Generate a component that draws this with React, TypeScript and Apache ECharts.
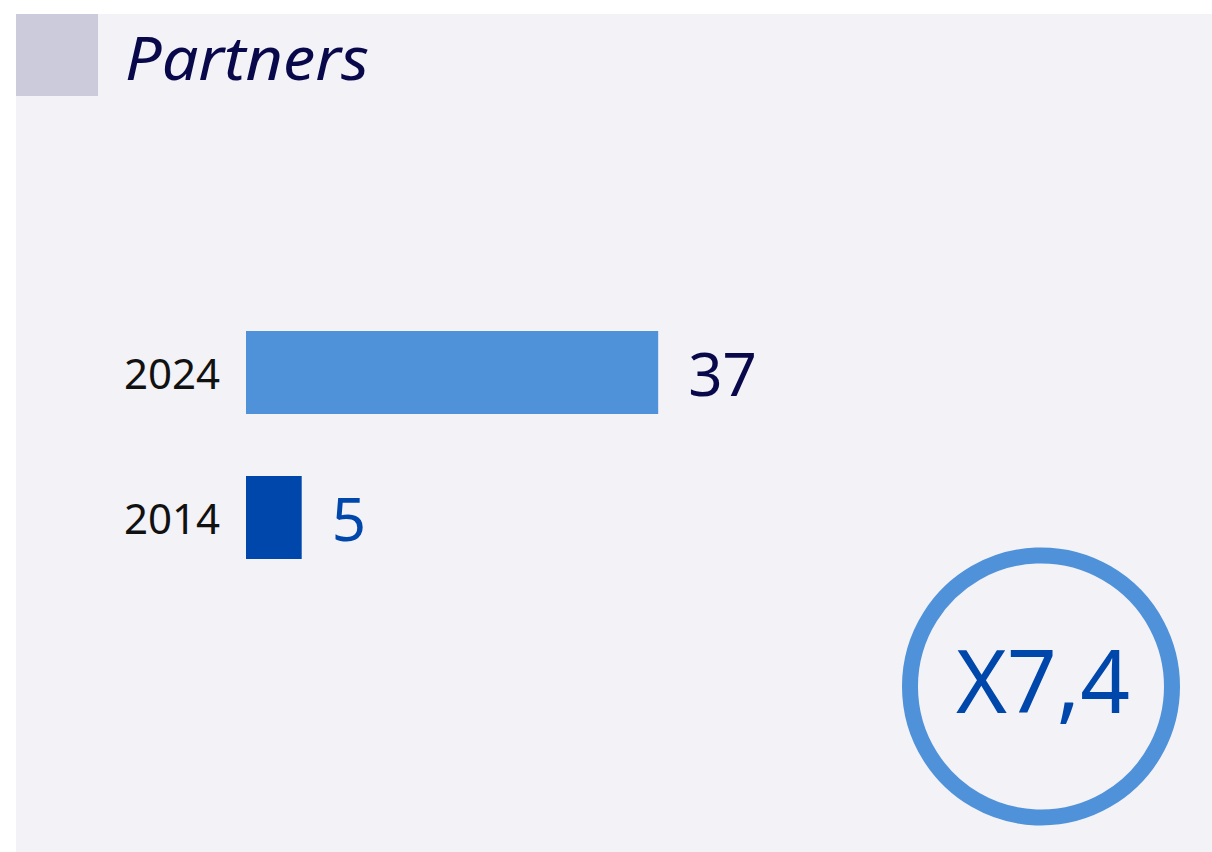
import React, { useEffect, useRef } from "react";
import * as echarts from "echarts";

const categories = ["2014", "2024"];
const values = [5, 37];
const barColors = ["#0047ab", "#4f92da"];
const labelColors = ["#0047ab", "#08084a"];
const titleText = "Partners";
const ratioText = "X7,4";

const FONT = "'Noto Sans', 'Open Sans', sans-serif";

export default function App() {
  const ref = useRef<HTMLDivElement>(null);
  useEffect(() => {
    document.body.style.margin = "0";
    const chart = echarts.init(ref.current!, null, { renderer: "svg" });
    chart.setOption({
      animation: false,
      backgroundColor: "#ffffff",
      textStyle: { fontFamily: FONT },
      graphic: [
        { type: "rect", z: -10, shape: { x: 16, y: 14, width: 1196, height: 838 }, style: { fill: "#f2f2f7" } },
        { type: "rect", z: -9, shape: { x: 16, y: 14, width: 82, height: 82 }, style: { fill: "#cccbdb" } },
        {
          type: "text", x: 125, y: 56, scaleX: 1.06,
          style: { text: titleText, fontSize: 61, fontStyle: "italic", fontFamily: FONT, fill: "#08084a", verticalAlign: "middle", align: "left" },
        },
        { type: "circle", shape: { cx: 1041, cy: 686.5, r: 131 }, style: { fill: "none", stroke: "#4f92da", lineWidth: 16 } },
        {
          type: "text", x: 1043, y: 679,
          style: { text: ratioText, fontSize: 87, fontFamily: FONT, fill: "#0047ab", align: "center", verticalAlign: "middle" },
        },
      ],
      grid: { left: 246, top: 300, width: 445.6, height: 290, containLabel: false },
      xAxis: { type: "value", min: 0, max: 40, show: false },
      yAxis: {
        type: "category",
        data: categories,
        axisLine: { show: false },
        axisTick: { show: false },
        axisLabel: { color: "#111111", fontSize: 42, margin: 26, fontFamily: FONT, padding: [10, 0, 0, 0] },
      },
      series: [
        {
          type: "bar",
          barWidth: 83,
          data: values.map((v, i) => ({
            value: v,
            itemStyle: { color: barColors[i] },
            label: { color: labelColors[i] },
          })),
          label: { show: true, position: "right", distance: 30, fontSize: 60, fontFamily: FONT },
        },
      ],
    });
    return () => chart.dispose();
  }, []);
  return <div ref={ref} style={{ width: 1212, height: 852 }} />;
}
